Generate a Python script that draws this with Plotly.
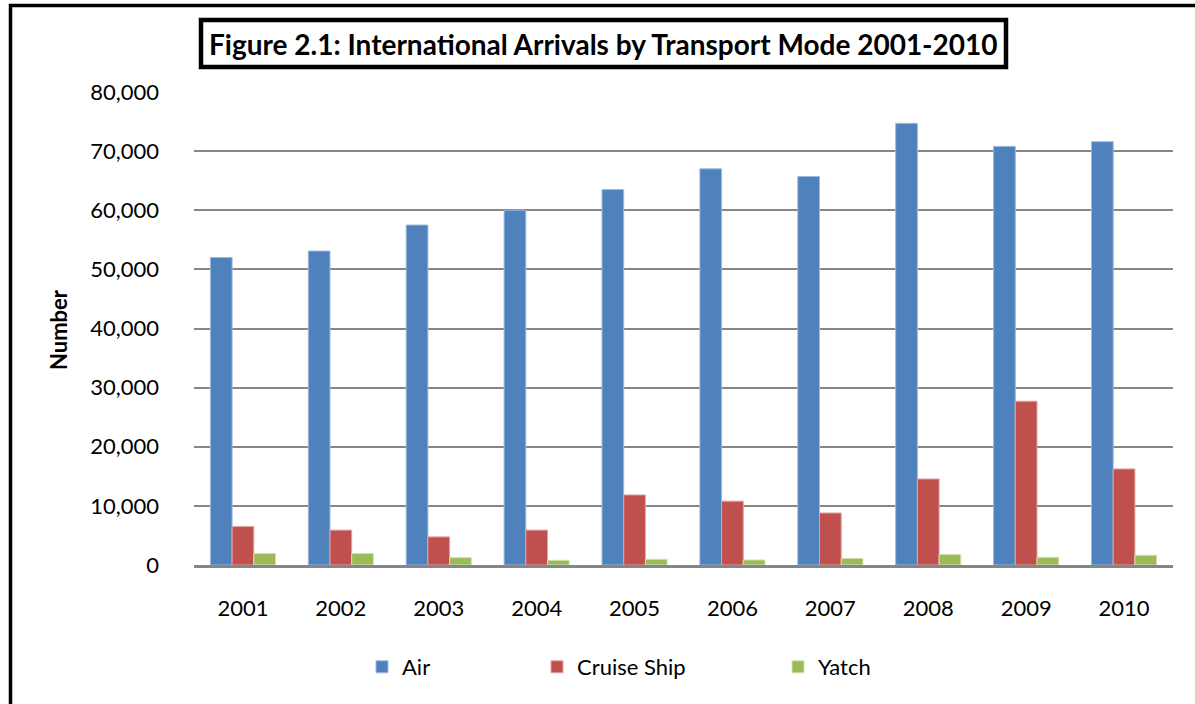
import plotly.graph_objects as go

years = ["2001", "2002", "2003", "2004", "2005", "2006", "2007", "2008", "2009", "2010"]
air = [52000, 53100, 57500, 60000, 63500, 67000, 65700, 74700, 70800, 71600]
cruise = [6500, 5900, 4750, 5900, 11850, 10800, 8800, 14550, 27700, 16250]
yatch = [1950, 1950, 1250, 800, 970, 850, 1130, 1800, 1300, 1650]
y_ticks = [0, 10000, 20000, 30000, 40000, 50000, 60000, 70000, 80000]
y_tick_labels = ["0", "10,000", "20,000", "30,000", "40,000", "50,000", "60,000", "70,000", "80,000"]

W, H = 1195, 704
# plot area in screen pixels
L, R, T, B = 194, 1173, 92, 565
pw, ph = R - L, B - T


def px(x):
    return (x - L) / pw


def py(y):
    return (B - y) / ph


FONT = "Lato"

fig = go.Figure()
fig.add_trace(go.Bar(x=years, y=air, name="Air", marker=dict(color="#4F81BD", line=dict(color="#9DB9DE", width=1)), legend="legend"))
fig.add_trace(go.Bar(x=years, y=cruise, name="Cruise Ship", marker=dict(color="#C0504D", line=dict(color="#E3A3A1", width=1)), legend="legend2"))
fig.add_trace(go.Bar(x=years, y=yatch, name="Yatch", marker=dict(color="#9BBB59", line=dict(color="#D2E2B3", width=1)), legend="legend3"))

legend_common = dict(orientation="h", yanchor="middle", y=py(667), xanchor="left",
                     font=dict(family=FONT, size=22, color="#000000"), bgcolor="rgba(0,0,0,0)",
                     itemwidth=30)

fig.update_layout(
    width=W, height=H,
    margin=dict(l=L, r=W - R, t=T, b=H - B, pad=0),
    paper_bgcolor="white", plot_bgcolor="white",
    barmode="group", bargap=0.335, bargroupgap=0,
    font=dict(family=FONT, color="#000000"),
    legend=dict(x=px(362), **legend_common),
    legend2=dict(x=px(537), **legend_common),
    legend3=dict(x=px(778), **legend_common),
    xaxis=dict(showgrid=False, showline=True, linecolor="#868686", linewidth=2.5,
               ticks="", tickfont=dict(family=FONT, size=22, color="#000000"),
               ticklabelstandoff=22),
    yaxis=dict(range=[0, 80000], tickvals=y_ticks, ticktext=y_tick_labels,
               showgrid=True, gridcolor="#868686", gridwidth=1.5, zeroline=False,
               showline=False, ticks="",
               tickfont=dict(family=FONT, size=22, color="#000000"),
               ticklabelstandoff=34),
    showlegend=True,
)

shapes = [
    dict(type="line", xref="paper", yref="paper", x0=px(10.5), x1=px(10.5), y0=py(4), y1=py(710),
         line=dict(color="black", width=3.5)),
    dict(type="line", xref="paper", yref="paper", x0=px(9), x1=px(1200), y0=py(5.5), y1=py(5.5),
         line=dict(color="black", width=3.5)),
    dict(type="rect", xref="paper", yref="paper", x0=px(201), x1=px(1006), y0=py(20), y1=py(67),
         line=dict(color="black", width=4.5), fillcolor="white"),
]
fig.update_layout(shapes=shapes)

fig.add_annotation(xref="paper", yref="paper", x=px(603), y=py(44), xanchor="center", yanchor="middle",
                   text="<b>Figure 2.1: International Arrivals by Transport Mode 2001-2010</b>",
                   showarrow=False, font=dict(family=FONT, size=28, color="#000000"))
fig.add_annotation(xref="paper", yref="paper", x=px(58), y=py(330), xanchor="center", yanchor="middle",
                   text="<b>Number</b>", textangle=-90,
                   showarrow=False, font=dict(family=FONT, size=22, color="#000000"))

fig.write_html("out.html", config={"displayModeBar": False},
               post_script="document.body.style.margin='0px';document.body.style.overflow='hidden';")
